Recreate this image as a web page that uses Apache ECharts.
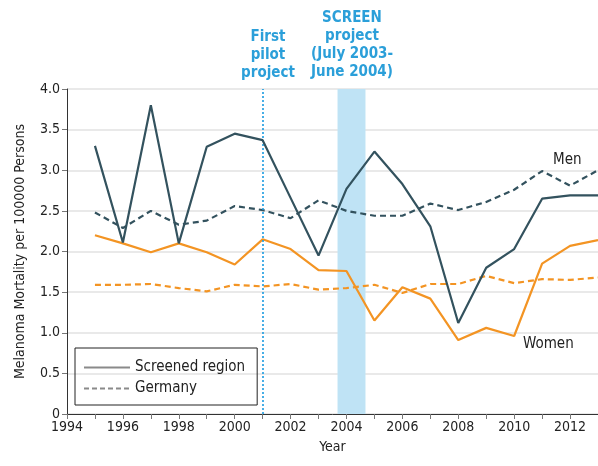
<!DOCTYPE html>
<html><head><meta charset="utf-8">
<script src="https://cdn.jsdelivr.net/npm/echarts@6/dist/echarts.min.js"></script>
<style>html,body{margin:0;padding:0;background:#fff}#c{width:598px;height:466px}</style>
</head><body><div id="c"></div>
<script>
const years = [1995,1996,1997,1998,1999,2000,2001,2002,2003,2004,2005,2006,2007,2008,2009,2010,2011,2012,2013];
const menScreened = [3.30,2.11,3.80,2.10,3.29,3.45,3.37,2.66,1.95,2.77,3.23,2.83,2.31,1.12,1.80,2.03,2.65,2.69,2.69];
const menGermany = [2.48,2.29,2.50,2.33,2.38,2.56,2.51,2.41,2.63,2.50,2.44,2.44,2.59,2.51,2.61,2.76,2.99,2.81,3.00];
const womenScreened = [2.20,2.10,1.99,2.10,1.99,1.84,2.15,2.03,1.77,1.76,1.15,1.56,1.42,0.91,1.06,0.96,1.85,2.07,2.14];
const womenGermany = [1.59,1.59,1.60,1.55,1.51,1.59,1.57,1.60,1.53,1.55,1.59,1.49,1.60,1.60,1.70,1.61,1.66,1.65,1.68];
const pilotYear = 2001.0;
const screenBand = [2003.68, 2004.68];
const legendNames = ['Screened region','Germany'];

const FONT = '"DejaVu Sans Condensed", "Liberation Sans Narrow", sans-serif';
const TEAL = '#33525e', ORANGE = '#f39423', BLUE = '#2b9fd9';
const pair = arr => years.map((y,i)=>[y,arr[i]]);

const chart = echarts.init(document.getElementById('c'));
chart.setOption({
  animation:false,
  textStyle:{fontFamily:FONT},
  grid:{left:67,right:0,top:89,bottom:52},
  legend:{
    data:legendNames, orient:'vertical', left:75, top:348,
    padding:[12,12,9,8], itemGap:6, itemWidth:46, itemHeight:14,
    borderColor:'#222', borderWidth:1,
    itemStyle:{opacity:0},
    textStyle:{fontFamily:FONT, fontSize:15, color:'#222'}
  },
  xAxis:{
    type:'value', min:1994, max:2013, interval:2,
    name:'Year', nameLocation:'middle', nameGap:26,
    nameTextStyle:{fontSize:14, color:'#222', fontFamily:FONT},
    axisLine:{lineStyle:{color:'#333', width:1}},
    axisTick:{show:true, length:5, lineStyle:{color:'#777'}},
    minorTick:{show:true, splitNumber:2, length:5, lineStyle:{color:'#777'}},
    axisLabel:{fontSize:14, color:'#222', fontFamily:FONT, margin:6, showMaxLabel:false, formatter:v=>String(v)},
    splitLine:{show:false}
  },
  yAxis:{
    type:'value', min:0, max:4, interval:0.5,
    name:'Melanoma Mortality per 100000 Persons', nameLocation:'middle', nameGap:40,
    nameTextStyle:{fontSize:14, color:'#222', fontFamily:FONT},
    axisLine:{show:true, lineStyle:{color:'#333', width:1}},
    axisTick:{show:true, length:5, lineStyle:{color:'#777'}},
    axisLabel:{fontSize:14, color:'#222', fontFamily:FONT, margin:7, formatter:v=> v===0?'0':v.toFixed(1)},
    splitLine:{show:true, lineStyle:{color:'#e2e2e2', width:1.5}}
  },
  series:[
    {name:'band', type:'line', data:[], silent:true,
     markArea:{silent:true, itemStyle:{color:'#bfe3f5'}, data:[[{xAxis:screenBand[0]},{xAxis:screenBand[1]}]]},
     markLine:{silent:true, symbol:'none', label:{show:false},
       lineStyle:{color:'#1b9be0', type:[2,2], width:1.6}, data:[{xAxis:pilotYear}]}},
    {name:'menGermany', type:'line', data:pair(menGermany), showSymbol:false, lineStyle:{color:TEAL, width:2.2, type:[6,4]}, itemStyle:{color:TEAL}, z:3},
    {name:'womenGermany', type:'line', data:pair(womenGermany), showSymbol:false, lineStyle:{color:ORANGE, width:2.2, type:[6,4]}, itemStyle:{color:ORANGE}, z:3},
    {name:'womenScreened', type:'line', data:pair(womenScreened), showSymbol:false, lineStyle:{color:ORANGE, width:2.2}, itemStyle:{color:ORANGE}, z:4},
    {name:'menScreened', type:'line', data:pair(menScreened), showSymbol:false, lineStyle:{color:TEAL, width:2.2}, itemStyle:{color:TEAL}, z:5},
    {name:'Screened region', type:'line', data:[], lineStyle:{color:'#8a8a8a', width:2}, itemStyle:{color:'#8a8a8a'}, symbol:'none'},
    {name:'Germany', type:'line', data:[], lineStyle:{color:'#8a8a8a', width:2, type:[5,3]}, itemStyle:{color:'#8a8a8a'}, symbol:'none'}
  ],
  graphic:[
    {type:'text', x:268, y:28, style:{text:'First\npilot\nproject', textAlign:'center', textVerticalAlign:'top', fill:BLUE, font:'bold 15px '+FONT, lineHeight:18}},
    {type:'text', x:352, y:9, style:{text:'SCREEN\nproject\n(July 2003-\nJune 2004)', textAlign:'center', textVerticalAlign:'top', fill:BLUE, font:'bold 15px '+FONT, lineHeight:18}},
    {type:'text', x:553, y:153, style:{text:'Men', fill:'#222', font:'15px '+FONT}},
    {type:'text', x:523, y:337, style:{text:'Women', fill:'#222', font:'15px '+FONT}}
  ]
});
</script></body></html>
